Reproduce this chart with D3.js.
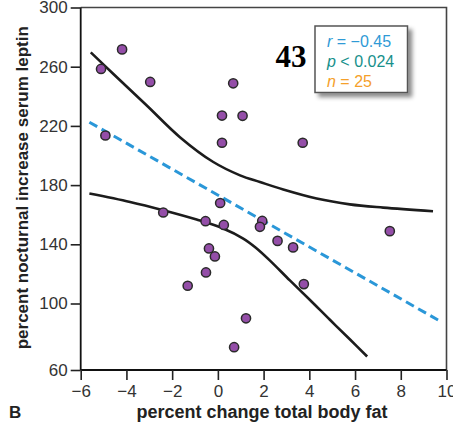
<!DOCTYPE html>
<html>
<head>
<meta charset="utf-8">
<script src="https://cdn.jsdelivr.net/npm/d3@7/dist/d3.min.js"></script>
<style>
  html, body { margin: 0; padding: 0; background: #fff; }
  svg { display: block; }
  text { font-family: "Liberation Sans", Arial, sans-serif; }
</style>
</head>
<body>
<svg id="chart" width="453" height="429"></svg>
<script>
// Percent change in total body fat vs. percent nocturnal increase in serum leptin
const bodyFatChange = [-5.11, -4.19, -2.96, -4.92, 0.18, 0.18, 0.67, 1.08, 3.71, 0.10,
                       -2.39, -0.54, 0.26, -0.39, -0.13, -0.52, -1.32, 1.94, 1.84, 2.61,
                       3.29, 3.76, 7.52, 1.23, 0.71];
const leptinIncrease = [258.5, 271.7, 249.7, 213.5, 227.0, 208.6, 248.8, 226.8, 208.6, 167.9,
                        161.5, 155.6, 153.1, 137.2, 131.8, 121.0, 112.0, 155.8, 151.8, 142.3,
                        137.9, 113.1, 148.9, 91.1, 73.7];

// Regression line endpoints
const fitX = [-5.62, 9.63];
const fitY = [222.5, 90.1];

// Confidence band, upper limb
const upperX = [-5.56, -4.57, -3.11, -1.66, -0.20, 0.97, 1.84, 2.86, 4.32, 5.77, 7.23, 9.41];
const upperY = [269.7, 255.1, 233.8, 212.4, 195.6, 186.6, 182.1, 177.0, 170.9, 167.0, 164.8, 162.3];

// Confidence band, lower limb
const lowerX = [-5.62, -3.84, -2.39, -0.93, 0.23, 1.11, 1.66, 2.28, 3.15, 4.03, 4.90, 5.77, 6.53];
const lowerY = [174.3, 168.6, 163.0, 156.7, 150.7, 143.9, 137.7, 129.0, 115.6, 102.4, 90.2, 78.5, 68.1];

const xTicks = [-6, -4, -2, 0, 2, 4, 6, 8, 10];
const yTicks = [60, 100, 140, 180, 220, 260, 300];

const statLines = [
  { sym: "r", rest: " = \u22120.45", color: "#2f9ad6" },
  { sym: "p", rest: " < 0.024",      color: "#17908b" },
  { sym: "n", rest: " = 25",         color: "#f5a02a" }
];
const figNumber = "43";
const panelLetter = "B";
const xTitle = "percent change total body fat";
const yTitle = "percent nocturnal increase serum leptin";

const svg = d3.select("#chart");

const plotLeft = 80.7, plotRight = 446.5, plotTop = 7.5, plotBottom = 370;

const x = d3.scaleLinear().domain([-6, 10]).range([plotLeft, plotRight]);
// y scale: the lowest band (60–100) is drawn a little taller than the rest
const y = d3.scaleLinear().domain([60, 100, 300]).range([plotBottom, 303.5, plotTop]);

// drop shadow for the stats box
const defs = svg.append("defs");
const f = defs.append("filter").attr("id", "shadow")
  .attr("x", "-20%").attr("y", "-20%").attr("width", "150%").attr("height", "150%");
f.append("feDropShadow").attr("dx", 4).attr("dy", 4).attr("stdDeviation", 2.2)
  .attr("flood-color", "#000").attr("flood-opacity", 0.45);

// frame (top and right)
svg.append("path")
  .attr("d", `M${plotLeft},${plotTop}H${plotRight}V${plotBottom}`)
  .attr("fill", "none").attr("stroke", "#444").attr("stroke-width", 1.6);

// axes
const xAxis = svg.append("g").attr("transform", `translate(0,${plotBottom})`)
  .call(d3.axisBottom(x).tickValues(xTicks).tickSize(10).tickPadding(5)
    .tickFormat(d => d < 0 ? "\u2212" + Math.abs(d) : d));
const yAxis = svg.append("g").attr("transform", `translate(${plotLeft},0)`)
  .call(d3.axisLeft(y).tickValues(yTicks).tickSize(10).tickPadding(3));

[xAxis, yAxis].forEach(g => {
  g.select(".domain").attr("stroke", "#111").attr("stroke-width", 1.8);
  g.selectAll(".tick line").attr("stroke", "#222").attr("stroke-width", 1.6);
  g.selectAll(".tick text").attr("fill", "#333").style("font-size", "17px");
});
yAxis.select(".domain").attr("d", `M0,${plotTop}V${plotBottom}`);
xAxis.select(".domain").attr("d", `M${plotLeft},0H${plotRight}`);

// confidence band limbs
const line = d3.line().x(d => x(d[0])).y(d => y(d[1])).curve(d3.curveCatmullRom);
[[upperX, upperY], [lowerX, lowerY]].forEach(([xs, ys]) => {
  svg.append("path")
    .datum(xs.map((v, i) => [v, ys[i]]))
    .attr("d", line)
    .attr("fill", "none").attr("stroke", "#1c1c1c").attr("stroke-width", 2.6);
});

// regression line
svg.append("path")
  .datum(fitX.map((v, i) => [v, fitY[i]]))
  .attr("d", d3.line().x(d => x(d[0])).y(d => y(d[1])))
  .attr("fill", "none").attr("stroke", "#2a97d8").attr("stroke-width", 3)
  .attr("stroke-dasharray", "9,5");

// subjects
svg.append("g").selectAll("circle")
  .data(bodyFatChange.map((v, i) => [v, leptinIncrease[i]]))
  .join("circle")
  .attr("cx", d => x(d[0])).attr("cy", d => y(d[1])).attr("r", 4.6)
  .attr("fill", "#944ea8").attr("stroke", "#2a2a2a").attr("stroke-width", 1.5);

// stats box
const box = svg.append("g");
box.append("rect")
  .attr("x", 315).attr("y", 26).attr("width", 92.5).attr("height", 66.5)
  .attr("fill", "#fff").attr("stroke", "#555").attr("stroke-width", 1.5)
  .attr("filter", "url(#shadow)");
statLines.forEach((s, i) => {
  const t = box.append("text")
    .attr("x", 327).attr("y", 46.7 + i * 20)
    .attr("fill", s.color).style("font-size", "16px");
  t.append("tspan").attr("font-style", "italic").text(s.sym);
  t.append("tspan").text(s.rest);
});

// figure number
svg.append("text")
  .attr("x", 275.5).attr("y", 66.7)
  .style("font-family", "'Liberation Serif', 'Times New Roman', serif")
  .style("font-size", "31px").style("font-weight", "bold")
  .attr("fill", "#000").text(figNumber);

// titles
svg.append("text")
  .attr("x", 262).attr("y", 418)
  .attr("text-anchor", "middle")
  .style("font-size", "18px").style("font-weight", "bold")
  .attr("fill", "#222").text(xTitle);

svg.append("text")
  .attr("transform", `translate(28,${(plotTop + plotBottom) / 2 - 1}) rotate(-90)`)
  .attr("text-anchor", "middle")
  .style("font-size", "17px").style("font-weight", "bold")
  .attr("fill", "#222").text(yTitle);

svg.append("text")
  .attr("x", 9).attr("y", 418)
  .style("font-size", "17px").style("font-weight", "bold")
  .attr("fill", "#222").text(panelLetter);
</script>
</body>
</html>
